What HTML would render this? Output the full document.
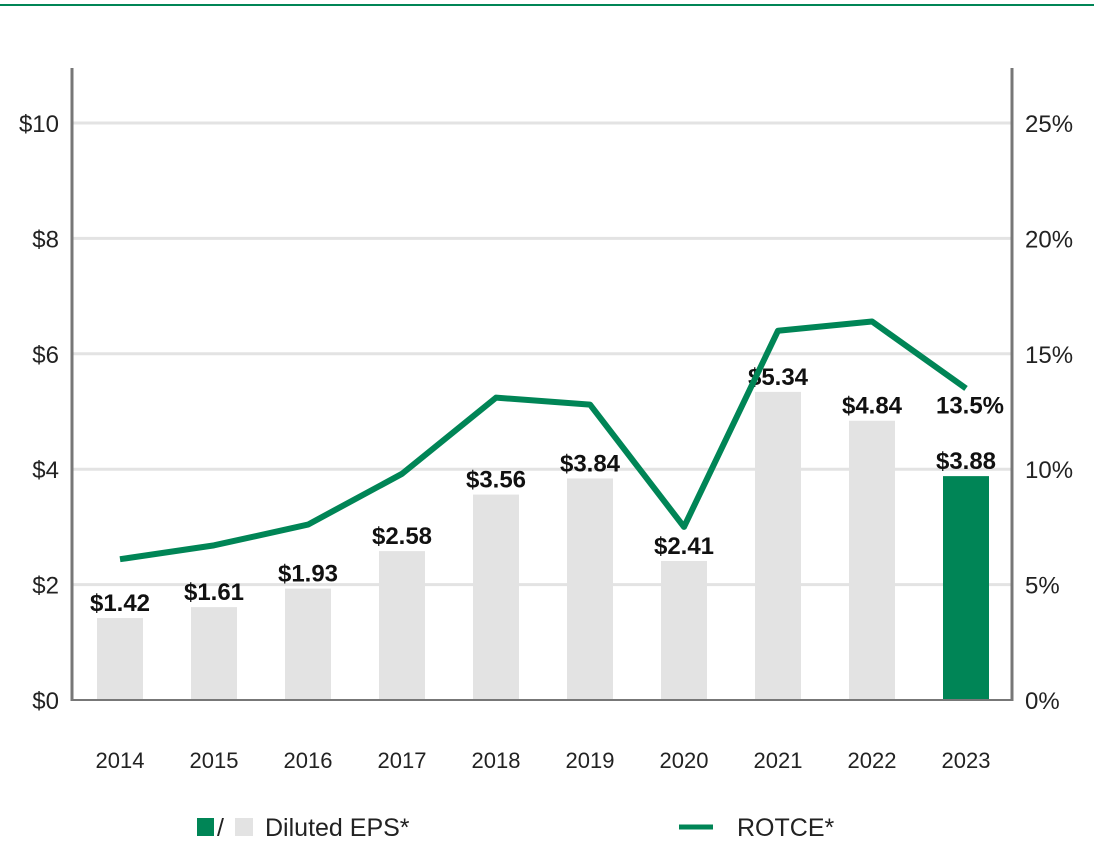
<!DOCTYPE html>
<html><head><meta charset="utf-8"><style>
body{margin:0;background:#fff;width:1094px;height:845px;overflow:hidden;font-family:"Liberation Sans",sans-serif}
svg text{font-family:"Liberation Sans",sans-serif}
</style></head><body>
<svg id="c" width="1094" height="845">
<line x1="0" y1="5" x2="1094" y2="5" stroke="#008556" stroke-width="2"/>
<g id="g"></g>
</svg>
<script>
const years=["2014","2015","2016","2017","2018","2019","2020","2021","2022","2023"];
const eps=[1.42,1.61,1.93,2.58,3.56,3.84,2.41,5.34,4.84,3.88];
const rotce=[6.1,6.7,7.6,9.8,13.1,12.8,7.5,16.0,16.4,13.5];
const leftTicks=[0,2,4,6,8,10];
const rightTicks=[0,5,10,15,20,25];
const NS="http://www.w3.org/2000/svg";
const g=document.getElementById('g');
const x0=72,x1=1012,yb=700;
const yL=v=>yb-v*57.7;
const yR=v=>yb-v*23.08;
const xC=i=>120+i*94;
function el(t,a,txt){const e=document.createElementNS(NS,t);for(const k in a)e.setAttribute(k,a[k]);if(txt!==undefined)e.textContent=txt;g.appendChild(e);return e;}
leftTicks.forEach(v=>{
 if(v>0){const l=el('line',{x1:x0,x2:x1,y1:yL(v),y2:yL(v),stroke:'#e3e3e3','stroke-width':3});
 
 }
 const t=el('text',{x:59,y:yL(v)+9,'text-anchor':'end','font-size':24,fill:'#222'},'$'+v);
 
 
});
rightTicks.forEach(v=>{
 const t=el('text',{x:1025,y:yR(v)+9,'font-size':24,fill:'#222'},v+'%');
 
 
});
eps.forEach((v,i)=>{
 const r=el('rect',{x:xC(i)-23,y:yL(v),width:46,height:yb-yL(v),fill:i===9?'#008556':'#e3e3e3'});
 
 
 const t=el('text',{x:xC(i),y:yL(v)-7,'text-anchor':'middle','font-size':24,'font-weight':'bold',fill:'#111'},'$'+v.toFixed(2));
 
 
 const yt=el('text',{x:xC(i),y:768,'text-anchor':'middle','font-size':22,fill:'#222'},years[i]);
 
 
});
const ax1=el('line',{x1:x0,x2:x0,y1:68,y2:701,stroke:'#777','stroke-width':3});


const ax2=el('line',{x1:x1,x2:x1,y1:68,y2:701,stroke:'#777','stroke-width':3});


const ax3=el('line',{x1:x0,x2:x1,y1:yb,y2:yb,stroke:'#777','stroke-width':2});


const pl=el('polyline',{points:rotce.map((v,i)=>xC(i)+','+yR(v)).join(' '),fill:'none',stroke:'#008556','stroke-width':6,'stroke-linejoin':'round'});


const rl=el('text',{x:970,y:yR(rotce[9])+25,'text-anchor':'middle','font-size':24,'font-weight':'bold',fill:'#111'},rotce[9].toFixed(1)+'%');


const s1=el('rect',{x:197,y:818,width:17,height:18,fill:'#008556'});


const sl=el('text',{x:217,y:836,'font-size':25,fill:'#222'},'/');


const s2=el('rect',{x:235,y:818,width:18,height:18,fill:'#e3e3e3'});


const lt=el('text',{x:265,y:836,'font-size':25,fill:'#222'},'Diluted EPS*');


const ll=el('line',{x1:679,x2:713,y1:827,y2:827,stroke:'#008556','stroke-width':5});


const lt2=el('text',{x:737,y:836,'font-size':25,fill:'#222'},'ROTCE*');


</script>
</body></html>
